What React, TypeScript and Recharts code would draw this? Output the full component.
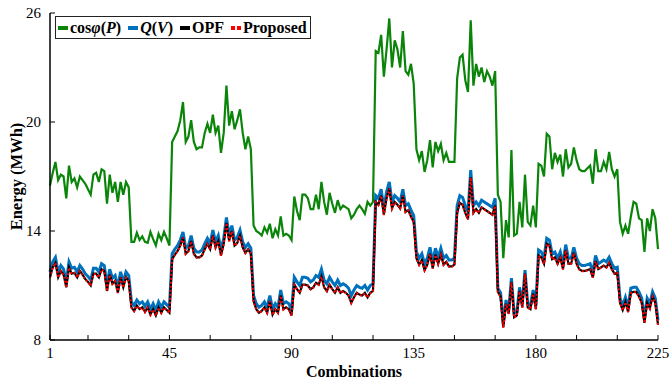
import React from "react";
import { LineChart, Line, XAxis, YAxis, Legend } from "recharts";

const FONT = '"Liberation Serif", "Times New Roman", serif';
const GREEN = "#0a850a";
const BLUE = "#0072bd";
const BLACK = "#000000";
const RED = "#ff0000";

// combination index 1..225
const combos = Array.from({ length: 225 }, (_, i) => i + 1);

const cosPhiP = [
  16.5, 17.2, 17.8, 16.8, 17.1, 17.0, 15.8, 17.6, 16.7, 16.9,
  16.4, 17.0, 16.8, 16.6, 16.3, 16.0, 17.1, 17.2, 16.7, 17.4,
  17.3, 15.5, 17.1, 16.1, 16.7, 15.6, 16.7, 16.0, 16.7, 16.4,
  13.4, 13.4, 13.9, 13.5, 13.7, 13.4, 13.35, 13.95, 13.55, 13.2,
  13.85, 13.5, 13.95, 13.6, 13.2, 18.9, 19.2, 19.5, 20.1, 21.1,
  18.9, 19.2, 20.1, 18.9, 18.5, 18.6, 18.6, 19.4, 19.9, 19.4,
  20.4, 19.4, 19.8, 18.3, 19.4, 22.0, 19.8, 20.6, 19.6, 20.1,
  20.7, 19.4, 18.5, 19.2, 18.5, 14.3, 14.0, 13.9, 13.75, 14.2,
  13.9, 14.4, 13.6, 14.1, 13.75, 14.8, 13.75, 13.85, 13.75, 13.5,
  15.9, 15.1, 14.6, 16.0, 16.0, 15.8, 15.2, 15.2, 16.0, 15.2,
  16.7, 15.6, 14.9, 16.1, 15.5, 15.0, 15.7, 15.2, 15.4, 15.3,
  15.2, 14.7, 14.9, 15.2, 15.4, 15.2, 14.95, 15.6, 15.4, 15.6,
  23.9, 23.8, 24.8, 22.5, 24.0, 25.7, 23.0, 24.5, 24.0, 23.0,
  25.0, 22.8, 22.6, 23.2, 22.1, 18.5, 17.9, 18.4, 17.25, 17.9,
  19.0, 17.5, 18.9, 18.4, 18.8, 17.9, 18.3, 17.8, 17.8, 17.8,
  22.4, 23.55, 23.7, 22.3, 21.65, 25.6, 22.0, 23.2, 22.5, 23.0,
  22.2, 22.8, 22.5, 22.0, 22.8, 16.0, 15.6, 12.5, 14.6, 13.65,
  18.45, 13.75, 13.85, 15.6, 14.2, 17.1, 14.5, 14.3, 15.4, 14.2,
  17.7, 17.6, 17.0, 19.35, 19.2, 17.4, 18.3, 17.8, 18.2, 17.0,
  18.5, 17.5, 17.7, 18.6, 17.9, 17.4, 17.3, 17.3, 17.45, 17.6,
  16.6, 18.5, 17.3, 17.3, 17.8, 17.4, 18.35, 17.4, 17.0, 17.4,
  14.5, 13.85, 14.3, 13.85, 14.8, 15.6, 15.5, 14.7, 14.6, 12.85,
  14.7, 14.0, 15.2, 14.7, 13.0,
];

const qV = [
  11.75, 12.3, 12.55, 11.75, 12.1, 11.9, 11.2, 12.3, 11.95, 12.0,
  11.75, 12.1, 11.9, 11.65, 11.5, 11.3, 11.95, 11.95, 11.75, 12.2,
  12.1, 11.0, 11.9, 11.4, 11.55, 10.9, 11.75, 11.2, 11.75, 11.55,
  10.1, 9.9, 10.2, 10.0, 10.1, 9.85, 10.1, 9.7, 10.0, 9.65,
  10.1, 9.8, 10.1, 9.95, 9.8, 12.75, 13.0, 13.2, 13.5, 13.95,
  13.05, 13.2, 13.75, 13.05, 12.85, 12.85, 12.95, 13.3, 13.6, 13.3,
  14.05, 13.4, 13.75, 12.95, 13.6, 14.75, 13.75, 14.3, 13.5, 13.65,
  14.05, 13.4, 13.1, 13.3, 13.05, 10.45, 10.0, 9.8, 9.9, 10.1,
  9.8, 10.45, 9.7, 10.0, 9.8, 10.75, 10.0, 10.1, 10.0, 9.65,
  11.45, 11.2, 11.0, 11.45, 11.45, 11.4, 11.2, 11.3, 11.55, 11.45,
  11.9, 11.3, 11.1, 11.45, 11.2, 11.0, 11.3, 11.0, 11.1, 11.0,
  10.85, 10.45, 10.75, 11.0, 10.9, 10.85, 11.0, 10.75, 11.0, 11.1,
  15.95, 15.8, 16.3, 15.25, 16.15, 16.7, 15.6, 15.95, 15.8, 15.6,
  16.3, 15.4, 15.5, 15.15, 14.85, 12.85, 12.5, 12.75, 12.2, 12.5,
  13.1, 12.3, 13.05, 12.55, 13.05, 12.5, 12.65, 12.4, 12.4, 12.5,
  15.4, 15.95, 15.85, 15.4, 15.05, 17.35, 15.4, 15.6, 15.4, 15.7,
  15.6, 15.5, 15.4, 15.3, 15.8, 10.85, 10.6, 8.9, 10.2, 9.65,
  11.4, 9.45, 9.55, 10.9, 10.0, 11.85, 10.0, 9.9, 10.75, 9.9,
  12.95, 12.85, 12.5, 13.6, 13.5, 12.75, 12.85, 12.5, 12.85, 12.2,
  13.25, 12.5, 12.5, 13.1, 12.5, 12.2, 12.1, 12.1, 12.15, 12.2,
  11.75, 12.65, 12.2, 12.3, 12.4, 12.3, 12.55, 12.2, 11.95, 12.0,
  10.3, 9.9, 10.35, 9.8, 10.85, 10.9, 10.9, 10.65, 10.3, 9.2,
  10.3, 10.0, 10.65, 10.3, 9.1,
];

const opf = [
  11.45, 12.0, 12.25, 11.45, 11.8, 11.6, 10.9, 12.0, 11.65, 11.7,
  11.45, 11.8, 11.6, 11.35, 11.2, 11.0, 11.65, 11.65, 11.45, 11.9,
  11.8, 10.7, 11.6, 11.1, 11.25, 10.6, 11.45, 10.9, 11.45, 11.25,
  9.8, 9.6, 9.9, 9.7, 9.8, 9.55, 9.8, 9.4, 9.7, 9.35,
  9.8, 9.5, 9.8, 9.65, 9.5, 12.45, 12.7, 12.9, 13.2, 13.65,
  12.75, 12.9, 13.45, 12.75, 12.55, 12.55, 12.65, 13.0, 13.3, 13.0,
  13.75, 13.1, 13.45, 12.65, 13.3, 14.45, 13.45, 14.0, 13.2, 13.35,
  13.75, 13.1, 12.8, 13.0, 12.75, 10.15, 9.7, 9.5, 9.6, 9.8,
  9.5, 10.15, 9.4, 9.7, 9.5, 10.45, 9.7, 9.8, 9.7, 9.35,
  11.05, 10.8, 10.6, 11.05, 11.05, 11.0, 10.8, 10.9, 11.15, 11.05,
  11.5, 10.9, 10.7, 11.05, 10.8, 10.6, 10.9, 10.6, 10.7, 10.6,
  10.45, 10.05, 10.35, 10.6, 10.5, 10.45, 10.6, 10.35, 10.6, 10.7,
  15.6, 15.45, 15.95, 14.9, 15.8, 16.35, 15.25, 15.6, 15.45, 15.25,
  15.95, 15.05, 15.15, 14.8, 14.5, 12.5, 12.15, 12.4, 11.85, 12.15,
  12.75, 11.95, 12.7, 12.2, 12.7, 12.15, 12.3, 12.05, 12.05, 12.15,
  15.0, 15.55, 15.45, 15.0, 14.65, 16.95, 15.0, 15.2, 15.0, 15.3,
  15.2, 15.1, 15.0, 14.9, 15.4, 10.65, 10.4, 8.7, 10.0, 9.45,
  11.2, 9.25, 9.35, 10.7, 9.8, 11.65, 9.8, 9.7, 10.55, 9.7,
  12.65, 12.55, 12.2, 13.3, 13.2, 12.45, 12.55, 12.2, 12.55, 11.9,
  12.95, 12.2, 12.2, 12.8, 12.2, 11.9, 11.8, 11.8, 11.85, 11.9,
  11.45, 12.35, 11.9, 12.0, 12.1, 12.0, 12.25, 11.9, 11.65, 11.7,
  10.05, 9.65, 10.1, 9.55, 10.6, 10.65, 10.65, 10.4, 10.05, 8.95,
  10.05, 9.75, 10.4, 10.05, 8.85,
];

const proposed = [
  11.43, 11.98, 12.24, 11.43, 11.78, 11.58, 10.88, 11.98, 11.63, 11.68,
  11.43, 11.78, 11.58, 11.33, 11.18, 10.98, 11.63, 11.63, 11.43, 11.88,
  11.78, 10.68, 11.58, 11.08, 11.23, 10.58, 11.43, 10.88, 11.43, 11.23,
  9.78, 9.58, 9.88, 9.68, 9.78, 9.53, 9.78, 9.38, 9.68, 9.33,
  9.78, 9.48, 9.78, 9.63, 9.48, 12.43, 12.68, 12.88, 13.18, 13.63,
  12.73, 12.88, 13.43, 12.73, 12.53, 12.53, 12.63, 12.98, 13.28, 12.98,
  13.73, 13.08, 13.43, 12.63, 13.28, 14.43, 13.43, 13.98, 13.18, 13.33,
  13.73, 13.08, 12.78, 12.98, 12.73, 10.13, 9.68, 9.48, 9.58, 9.78,
  9.48, 10.13, 9.38, 9.68, 9.48, 10.43, 9.68, 9.78, 9.68, 9.33,
  11.03, 10.78, 10.58, 11.03, 11.03, 10.98, 10.78, 10.88, 11.13, 11.03,
  11.48, 10.88, 10.68, 11.03, 10.78, 10.58, 10.88, 10.58, 10.68, 10.58,
  10.43, 10.03, 10.33, 10.58, 10.48, 10.43, 10.58, 10.33, 10.58, 10.68,
  15.58, 15.43, 15.93, 14.88, 15.78, 16.33, 15.23, 15.58, 15.43, 15.23,
  15.93, 15.03, 15.13, 14.78, 14.48, 12.48, 12.13, 12.38, 11.83, 12.13,
  12.73, 11.93, 12.68, 12.18, 12.68, 12.13, 12.28, 12.03, 12.03, 12.13,
  14.98, 15.53, 15.43, 14.98, 14.63, 16.93, 14.98, 15.18, 14.98, 15.28,
  15.18, 15.08, 14.98, 14.88, 15.38, 10.63, 10.38, 8.68, 9.98, 9.43,
  11.18, 9.23, 9.33, 10.68, 9.78, 11.63, 9.78, 9.68, 10.53, 9.68,
  12.63, 12.53, 12.18, 13.28, 13.18, 12.43, 12.53, 12.18, 12.53, 11.88,
  12.93, 12.18, 12.18, 12.78, 12.18, 11.88, 11.78, 11.78, 11.83, 11.88,
  11.43, 12.33, 11.88, 11.98, 12.08, 11.98, 12.23, 11.88, 11.63, 11.68,
  10.03, 9.63, 10.08, 9.53, 10.58, 10.63, 10.63, 10.38, 10.03, 8.93,
  10.03, 9.73, 10.38, 10.03, 8.83,
];

const xTicks = [1, 15, 30, 45, 60, 75, 90, 105, 120, 135, 150, 165, 180, 195, 210, 225];
const xLabels = [1, 45, 90, 135, 180, 225];
const yTicks = [8, 14, 20, 26];

const data = combos.map((c, i) => ({
  c,
  cosPhiP: cosPhiP[i],
  qV: qV[i],
  opf: opf[i],
  proposed: proposed[i],
}));

const axisLine = { stroke: "#000", strokeWidth: 1.5 };
const tickLine = { stroke: "#000", strokeWidth: 1 };
const tickFont = { fill: "#000", fontSize: 15, fontFamily: FONT };

const bold: React.CSSProperties = { fontWeight: "bold" };

const legendItems = [
  {
    color: GREEN,
    dotted: false,
    label: (
      <span style={bold}>
        cos<i>φ</i>(<i>P</i>)
      </span>
    ),
  },
  {
    color: BLUE,
    dotted: false,
    label: (
      <span style={bold}>
        <i>Q</i>(<i>V</i>)
      </span>
    ),
  },
  { color: BLACK, dotted: false, label: <span style={bold}>OPF</span> },
  { color: RED, dotted: true, label: <span style={bold}>Proposed</span> },
];

const renderLegend = () => (
  <div
    style={{
      display: "flex",
      alignItems: "center",
      border: "1.5px solid #222",
      background: "#fff",
      height: 21,
      padding: "0 3px 0 2px",
      fontFamily: FONT,
      fontSize: 16,
      color: "#000",
      whiteSpace: "nowrap",
    }}
  >
    {legendItems.map((it, i) => (
      <div key={i} style={{ display: "flex", alignItems: "center", marginLeft: i === 0 ? 0 : 7 }}>
        {it.dotted ? (
          <span style={{ display: "flex", width: 10, justifyContent: "space-between" }}>
            <span style={{ width: 4, height: 4, background: it.color }} />
            <span style={{ width: 4, height: 4, background: it.color }} />
          </span>
        ) : (
          <span style={{ width: 10, height: 4, background: it.color }} />
        )}
        <span style={{ marginLeft: 2 }}>{it.label}</span>
      </div>
    ))}
  </div>
);

const renderYLabel = (props: any) => {
  const { x, y, height } = props.viewBox;
  const cx = x + 22;
  const cy = y + height / 2;
  return (
    <text
      x={cx}
      y={cy}
      transform={`rotate(-90 ${cx} ${cy})`}
      textAnchor="middle"
      fontFamily={FONT}
      fontSize={16.5}
      fontWeight="bold"
      fill="#000"
    >
      Energy (MWh)
    </text>
  );
};

export default function App() {
  return (
    <div style={{ position: "absolute", left: 0, top: 0, width: 672, height: 379, background: "#fff" }}>
      <LineChart width={672} height={379} data={data} margin={{ top: 13, right: 14, bottom: 0, left: 0 }}>
        <XAxis
          xAxisId="b"
          dataKey="c"
          type="number"
          domain={[1, 225]}
          ticks={xTicks}
          interval={0}
          tickFormatter={(v: number) => (xLabels.includes(v) ? String(v) : "")}
          height={39}
          tickSize={-5}
          tickMargin={12}
          axisLine={axisLine}
          tickLine={tickLine}
          tick={tickFont}
          label={{
            value: "Combinations",
            position: "insideBottom",
            offset: 2,
            style: { fontFamily: FONT, fontSize: 16, fontWeight: "bold", fill: "#000" },
          }}
        />
        <XAxis
          xAxisId="t"
          orientation="top"
          dataKey="c"
          type="number"
          domain={[1, 225]}
          ticks={xTicks}
          interval={0}
          tickFormatter={() => ""}
          height={0}
          tickSize={-5}
          axisLine={axisLine}
          tickLine={tickLine}
        />
        <YAxis
          yAxisId="l"
          type="number"
          domain={[8, 26]}
          ticks={yTicks}
          interval={0}
          width={50}
          tickSize={-5}
          tickMargin={14}
          axisLine={axisLine}
          tickLine={tickLine}
          tick={tickFont}
          label={{ content: renderYLabel }}
        />
        <YAxis
          yAxisId="r"
          orientation="right"
          type="number"
          domain={[8, 26]}
          ticks={yTicks}
          interval={0}
          width={0}
          tickSize={-5}
          tickFormatter={() => ""}
          axisLine={axisLine}
          tickLine={tickLine}
        />
        <Legend
          layout="horizontal"
          verticalAlign="middle"
          align="center"
          content={renderLegend}
          wrapperStyle={{ left: 55, top: 16, width: "auto", height: "auto" }}
        />
        <Line xAxisId="b" yAxisId="l" dataKey="cosPhiP" stroke={GREEN} strokeWidth={2.2} dot={false} isAnimationActive={false} />
        <Line xAxisId="b" yAxisId="l" dataKey="qV" stroke={BLUE} strokeWidth={3} dot={false} isAnimationActive={false} />
        <Line xAxisId="b" yAxisId="l" dataKey="opf" stroke={BLACK} strokeWidth={2.2} dot={false} isAnimationActive={false} />
        <Line
          xAxisId="b"
          yAxisId="l"
          dataKey="proposed"
          stroke={RED}
          strokeWidth={2}
          strokeDasharray="2 2"
          dot={false}
          isAnimationActive={false}
        />
      </LineChart>
    </div>
  );
}
